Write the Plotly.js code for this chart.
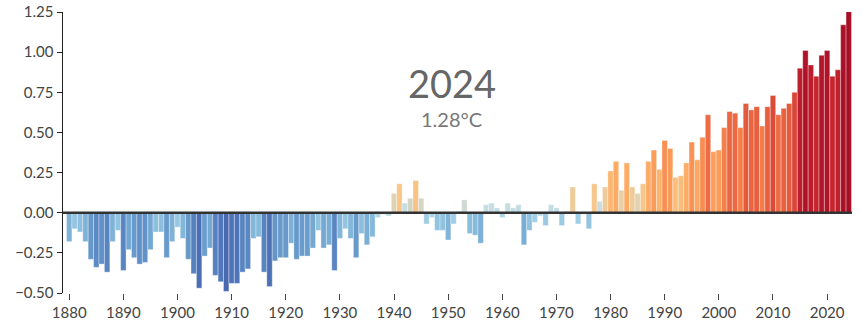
<!DOCTYPE html>
<html>
<head>
<meta charset="utf-8">
<script src="https://cdn.plot.ly/plotly-3.0.1.min.js"></script>
<style>
html,body{margin:0;padding:0;background:#fff;}
#chart{width:862px;height:334px;}
</style>
</head>
<body>
<div id="chart"></div>
<script>
// Years 1880..2024
const startYear = 1880;
const anomalies = [
 -0.18,-0.10,-0.12,-0.18,-0.29,-0.34,-0.32,-0.37,-0.18,-0.11,
 -0.36,-0.23,-0.28,-0.32,-0.31,-0.23,-0.12,-0.12,-0.28,-0.18,
 -0.09,-0.16,-0.29,-0.38,-0.47,-0.27,-0.22,-0.39,-0.43,-0.49,
 -0.44,-0.44,-0.37,-0.35,-0.16,-0.15,-0.37,-0.46,-0.30,-0.28,
 -0.28,-0.19,-0.29,-0.27,-0.27,-0.22,-0.11,-0.22,-0.20,-0.36,
 -0.16,-0.10,-0.16,-0.28,-0.13,-0.20,-0.15,-0.03,-0.01,-0.02,
  0.12, 0.18, 0.06, 0.09, 0.20, 0.09,-0.07,-0.03,-0.11,-0.11,
 -0.17,-0.07, 0.01, 0.08,-0.13,-0.14,-0.19, 0.05, 0.06, 0.03,
 -0.03, 0.06, 0.03, 0.05,-0.20,-0.11,-0.06,-0.02,-0.08, 0.05,
  0.03,-0.08, 0.01, 0.16,-0.07,-0.01,-0.10, 0.18, 0.07, 0.16,
  0.26, 0.32, 0.14, 0.31, 0.16, 0.12, 0.18, 0.32, 0.39, 0.27,
  0.45, 0.40, 0.22, 0.23, 0.31, 0.44, 0.33, 0.47, 0.61, 0.38,
  0.39, 0.53, 0.63, 0.62, 0.53, 0.68, 0.64, 0.66, 0.54, 0.66,
  0.73, 0.61, 0.65, 0.68, 0.75, 0.90, 1.01, 0.92, 0.85, 0.98,
  1.01, 0.85, 0.89, 1.17, 1.28
];
const years = anomalies.map((_, i) => startYear + i);
const tickYears = [1880,1890,1900,1910,1920,1930,1940,1950,1960,1970,1980,1990,2000,2010,2020];
const yTicks = [-0.5,-0.25,0,0.25,0.5,0.75,1.0,1.25];
const headline = "2024";
const subline = "1.28°C";

// colour stops (value, colour)
const stopValues = [-0.5,-0.35,-0.25,-0.12,-0.05,0.0,0.07,0.09,0.13,0.18,0.28,0.40,0.55,0.70,0.85,1.0,1.3];
const stopColors = ["#4868b0","#5a88c3","#6ea2cf","#8cc0de","#a7d2e5","#bcdde5","#c8dde0","#d5d5c4",
                    "#e3d2ae","#f6c68a","#fdb26a","#fb9b58","#f47b4a","#e2553a","#c6252e","#b01228","#a50f26"];
const cmin = -0.5, cmax = 1.3;
const colorscale = stopValues.map((v, i) => [(v - cmin) / (cmax - cmin), stopColors[i]]);

const trace = {
  type: 'bar',
  x: years,
  y: anomalies,
  marker: {
    color: anomalies,
    colorscale: colorscale,
    cmin: cmin, cmax: cmax,
    showscale: false,
    line: {color: 'rgba(255,255,255,0.55)', width: 0.6}
  },
  cliponaxis: false,
  hoverinfo: 'x+y'
};

const layout = {
  width: 862, height: 334,
  margin: {l: 63, r: 10, t: 12, b: 41},
  paper_bgcolor: '#fff', plot_bgcolor: '#fff',
  bargap: 0,
  showlegend: false,
  font: {family: 'Lato, "Open Sans", sans-serif', size: 15, color: '#444'},
  xaxis: {
    range: [1878.85, 2024.6],
    tickvals: tickYears,
    ticks: 'outside', ticklen: 6, tickwidth: 1, tickcolor: '#444',
    showline: false, showgrid: false, zeroline: false,
    tickfont: {size: 15, color: '#444'}
  },
  yaxis: {
    range: [-0.5, 1.25],
    tickvals: yTicks,
    tickformat: '.2f',
    ticks: 'outside', ticklen: 5, tickwidth: 1, tickcolor: '#222',
    showline: true, linecolor: '#222', linewidth: 1.5,
    showgrid: false, zeroline: false,
    tickfont: {size: 15, color: '#444'}
  },
  shapes: [{
    type: 'line', xref: 'paper', yref: 'y', x0: 0, x1: 1, y0: 0, y1: 0,
    line: {color: '#333', width: 2.5}, layer: 'above'
  }],
  annotations: [
    {text: headline, xref: 'paper', yref: 'paper', x: 0.493, y: 0.746, showarrow: false,
     font: {size: 38, color: '#666', family: 'Lato, sans-serif'}, xanchor: 'center', yanchor: 'middle'},
    {text: subline, xref: 'paper', yref: 'paper', x: 0.493, y: 0.62, showarrow: false,
     font: {size: 20, color: '#777', family: 'Lato, sans-serif'}, xanchor: 'center', yanchor: 'middle'}
  ]
};

Plotly.newPlot('chart', [trace], layout, {displayModeBar: false, staticPlot: true});
</script>
</body>
</html>
